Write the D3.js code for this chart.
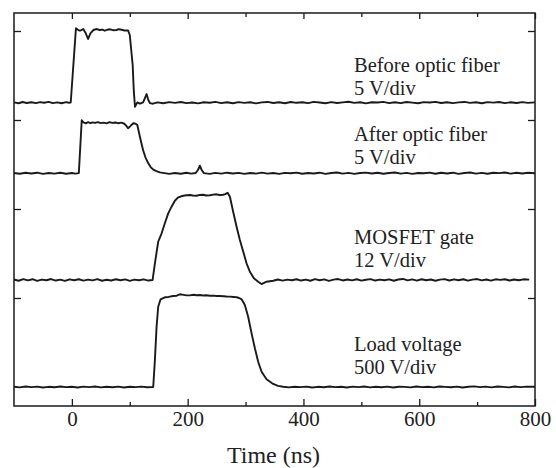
<!DOCTYPE html>
<html><head><meta charset="utf-8">
<script src="https://cdn.jsdelivr.net/npm/d3@7"></script>
<style>
body{margin:0;background:#fff}
svg{display:block}
</style>
</head><body>
<svg id="chart" width="556" height="468"></svg>
<script>
// ---------------- data ----------------
const traceNames  = ["Before optic fiber", "After optic fiber", "MOSFET gate", "Load voltage"];
const traceScales = ["5 V/div", "5 V/div", "12 V/div", "500 V/div"];
const traceOffsets = [3.194, 2.401, 1.202, 0.0];   // vertical offset of each trace, in divisions
const xMajorTicks = [0, 200, 400, 600, 800];
const xMinorTicks = [100, 300, 500, 700];
const yTicks = [1, 2, 3, 4];
const xTitle = "Time (ns)";

// time (ns), signal (divisions above the trace baseline)
const beforeFiber = [
  [-100,0.004],[-92,-0.006],[-85,0.008],[-78,-0.003],[-70,0.006],[-62,-0.004],[-55,0.007],[-48,0],
  [-40,0.009],[-33,-0.005],[-25,0.004],[-18,-0.006],[-10,0.007],[-5,0],[-2,0.002],
  [7,0.836],[11,0.817],[14,0.809],[19.6,0.828],[24,0.78],[28,0.716],[32,0.78],[37,0.817],[43,0.828],
  [48,0.817],[53,0.822],[57,0.809],[61,0.82],[66,0.825],[71,0.815],[77,0.817],[81,0.826],[86,0.82],
  [91,0.812],[97,0.813],[100,0.761],[105,0.424],[107,0.124],[109,-0.045],[113,0.004],[117.5,-0.011],
  [123,0.004],[126,0.05],[129,0.098],[132,0.03],[135,-0.005],[140,-0.011],
  [148,0.004],[158,-0.006],[168,0.007],[178,-0.002],[188,0.008],[198,-0.005],[208,0.003],[218,-0.007],
  [228,0.006],[238,0],[248,0.009],[258,-0.004],[268,0.005],[278,-0.006],[288,0.007],[298,-0.002],
  [308,0.006],[318,-0.007],[328,0.004],[338,0.009],[348,-0.003],[358,0.005],[368,-0.006],[378,0.008],
  [388,-0.001],[398,0.006],[408,-0.005],[418,0.01],[428,0.002],[438,-0.006],[448,0.007],[458,-0.003],
  [468,0.004],[478,0.011],[488,-0.002],[498,0.006],[508,-0.007],[518,0.005],[528,0.002],[538,0.009],
  [548,-0.004],[558,0.006],[568,-0.005],[578,0.008],[588,0.001],[598,-0.006],[608,0.007],[618,0.003],
  [628,0.01],[638,-0.003],[648,0.006],[658,-0.005],[668,0.004],[678,0.009],[688,-0.002],[698,0.006],
  [708,-0.006],[718,0.007],[728,0.001],[738,0.008],[748,-0.004],[758,0.005],[768,-0.003],[778,0.007],
  [788,-0.002],[800,0.004]
];
const afterFiber = [
  [-100,0.003],[-90,-0.005],[-80,0.006],[-70,-0.002],[-60,0.007],[-50,-0.006],[-40,0.004],[-30,-0.003],
  [-20,0.006],[-10,-0.005],[0,0.004],[6,-0.003],[12,0.002],
  [17,0.596],[20,0.573],[24,0.562],[28,0.575],[32,0.563],[36,0.572],[40,0.566],[45,0.576],[50,0.564],
  [55,0.57],[60,0.561],[65,0.574],[70,0.566],[75,0.571],[80,0.563],[85,0.57],[90,0.56],[94,0.535],
  [97,0.506],[101,0.53],[106,0.562],[110,0.558],[113,0.543],[117.5,0.411],[123,0.26],[127,0.18],
  [132,0.112],[136,0.07],[140,0.045],[146,0.025],[152,0.011],[160,0.002],
  [168,-0.006],[178,0.004],[188,-0.005],[198,0.006],[206,-0.003],[214,0.003],[218,0.04],[221,0.085],
  [224,0.04],[228,0.002],[238,-0.006],[248,0.005],[258,-0.004],[268,0.007],[278,-0.002],[288,0.005],
  [298,-0.006],[308,0.004],[318,-0.003],[328,0.008],[338,-0.004],[348,0.003],[358,-0.007],[368,0.005],
  [378,0.001],[388,0.008],[398,-0.005],[408,0.004],[418,-0.002],[428,0.007],[438,-0.006],[448,0.003],
  [458,0.009],[468,-0.003],[478,0.005],[488,-0.006],[498,0.004],[508,0.008],[518,-0.002],[528,0.006],
  [538,-0.005],[548,0.003],[558,0.009],[568,-0.004],[578,0.005],[588,-0.006],[598,0.004],[608,0.001],
  [618,0.008],[628,-0.005],[638,0.006],[648,-0.002],[658,0.007],[668,-0.006],[678,0.003],[688,0.009],
  [698,-0.003],[708,0.005],[718,-0.005],[728,0.006],[738,0.002],[748,0.009],[758,-0.004],[768,0.006],
  [778,-0.002],[788,0.007],[800,0.001]
];
const mosfetGate = [
  [-100,0.006],[-92,-0.008],[-84,0.01],[-76,-0.004],[-68,0.009],[-60,-0.009],[-52,0.005],[-44,-0.003],
  [-36,0.011],[-28,-0.006],[-20,0.004],[-12,-0.01],[-4,0.008],[4,-0.002],[12,0.009],[20,-0.007],
  [28,0.005],[36,-0.004],[44,0.01],[52,-0.008],[60,0.003],[68,-0.005],[76,0.009],[84,-0.003],
  [92,0.007],[100,-0.009],[108,0.004],[116,-0.002],[124,0.008],[132,-0.006],[139.4,0],
  [143.4,0.188],[149.1,0.43],[155,0.525],[160.6,0.637],[166.4,0.749],[172.2,0.824],[177.9,0.891],
  [183.6,0.929],[192.3,0.947],[198,0.952],[203.8,0.955],[209,0.949],[215.4,0.947],[221,0.956],
  [226.8,0.958],[232,0.95],[238.4,0.952],[244,0.96],[249.9,0.963],[255,0.955],[261.4,0.958],[265,0.965],
  [269,0.981],[273,0.936],[278.6,0.767],[284.5,0.599],[290.2,0.449],[296,0.318],[301.7,0.188],
  [307.5,0.093],[314.4,0.019],[321.8,-0.019],[327.7,-0.045],[336.3,-0.019],[347.8,-0.008],
  [356,0.006],[364,-0.007],[372,0.004],[380,-0.002],[388,0.009],[396,-0.006],[404,0.005],[412,-0.008],
  [420,0.01],[428,-0.003],[436,0.007],[444,-0.009],[452,0.004],[460,0.011],[468,-0.005],[476,0.006],
  [484,-0.004],[492,0.009],[500,-0.007],[508,0.003],[516,0.01],[524,-0.006],[532,0.005],[540,-0.002],
  [548,0.008],[556,-0.008],[564,0.006],[572,0.012],[580,-0.004],[588,0.007],[596,-0.006],[604,0.009],
  [612,-0.002],[620,0.006],[628,-0.008],[636,0.004],[644,0.01],[652,-0.005],[660,0.007],[668,-0.003],
  [676,0.009],[684,-0.007],[692,0.005],[700,0.011],[708,-0.004],[716,0.006],[724,-0.006],[732,0.008],
  [740,0.001],[748,0.009],[756,-0.005],[764,0.006],[772,-0.002],[780,0.008],[790,0.004]
];
const loadVoltage = [
  [-100,0.003],[-90,-0.004],[-80,0.005],[-70,-0.002],[-60,0.004],[-50,-0.005],[-40,0.002],[-30,-0.003],
  [-20,0.005],[-10,-0.002],[0,0.003],[10,-0.005],[20,0.004],[30,-0.001],[40,0.005],[50,-0.004],
  [60,0.002],[70,-0.003],[80,0.004],[90,-0.005],[100,0.003],[110,-0.002],[120,0.004],[130,-0.003],
  [140.5,0],[143.4,0.303],[146.3,0.678],[149.1,0.902],[153.2,0.985],[160.6,1.008],[167,1.012],[175,1.022],
  [181,1.026],[186.6,1.042],[193,1.035],[198,1.03],[203.8,1.03],[210,1.036],[215,1.031],[221,1.034],
  [227,1.028],[232,1.031],[238.4,1.026],[244,1.027],[250,1.022],[255.7,1.022],[262,1.02],[267,1.017],
  [273,1.015],[279,1.012],[284.5,1.008],[289,1.0],[293.1,0.985],[298.8,0.921],[304.5,0.79],
  [310.4,0.603],[316.1,0.435],[321.8,0.284],[327.7,0.172],[336.3,0.087],[347.7,0.034],[356,0.012],
  [365,0.003],[375,-0.004],[385,0.003],[395,-0.002],[405,0.004],[415,-0.005],[425,0.002],[435,-0.003],
  [445,0.005],[455,-0.002],[465,0.003],[475,-0.005],[485,0.004],[495,-0.001],[505,0.005],[515,-0.004],
  [525,0.002],[535,-0.003],[545,0.004],[555,-0.005],[565,0.003],[575,0.001],[585,-0.004],[595,0.005],
  [605,-0.002],[615,0.003],[625,-0.004],[635,0.006],[645,0.001],[655,-0.003],[665,0.004],[675,-0.005],
  [685,0.003],[695,0.007],[705,-0.002],[715,0.004],[725,-0.004],[735,0.006],[745,0.001],[755,-0.004],
  [765,0.005],[775,-0.002],[785,0.004],[800,0.002]
];
const traces = [beforeFiber, afterFiber, mosfetGate, loadVoltage];

// ---------------- layout ----------------
const FONT = '"Liberation Serif","Tinos","Times New Roman","DejaVu Serif","Noto Serif",serif';
const plot = {left: 14, right: 535, top: 13, bottom: 406};
const labelX = 354;
const labelBaselines = [71.9, 140.9, 244.2, 350.9];
const labelGap = 22.8;
const labelSize = 20.5;

const svg = d3.select("#chart");
const x = d3.scaleLinear().domain([-100, 800]).range([plot.left, plot.right]);
const y = d3.scaleLinear().domain([-0.2135, 4.2022]).range([plot.bottom, plot.top]);

const ink = "#1a1a1a";

function styleAxis(g) {
  g.select(".domain").remove();
  g.selectAll(".tick line").attr("stroke", ink).attr("stroke-width", 1.3);
}
svg.append("g").attr("transform", `translate(0,${plot.bottom})`)
  .call(d3.axisBottom(x).tickValues(xMajorTicks).tickSizeInner(-7).tickSizeOuter(0).tickPadding(5).tickFormat(d3.format("d")))
  .call(styleAxis)
  .call(g => g.attr("font-family", null).attr("font-size", null))
  .call(g => g.selectAll(".tick text").attr("font-size", 21).attr("fill", "#222")
      .style("font-family", FONT));
svg.append("g").attr("transform", `translate(0,${plot.bottom})`)
  .call(d3.axisBottom(x).tickValues(xMinorTicks).tickSizeInner(-4).tickSizeOuter(0).tickFormat(""))
  .call(styleAxis);
svg.append("g").attr("transform", `translate(0,${plot.top})`)
  .call(d3.axisTop(x).tickValues(xMajorTicks).tickSizeInner(-6).tickSizeOuter(0).tickFormat(""))
  .call(styleAxis);
svg.append("g").attr("transform", `translate(0,${plot.top})`)
  .call(d3.axisTop(x).tickValues(xMinorTicks).tickSizeInner(-4).tickSizeOuter(0).tickFormat(""))
  .call(styleAxis);
svg.append("g").attr("transform", `translate(${plot.left},0)`)
  .call(d3.axisLeft(y).tickValues(yTicks).tickSizeInner(-7).tickSizeOuter(0).tickFormat(""))
  .call(styleAxis);
svg.append("g").attr("transform", `translate(${plot.right},0)`)
  .call(d3.axisRight(y).tickValues(yTicks).tickSizeInner(-7).tickSizeOuter(0).tickFormat(""))
  .call(styleAxis);

// traces
const line = d3.line().x(d => x(d[0])).y(d => y(d[1]));
svg.append("g").selectAll("path").data(traces).join("path")
  .attr("d", (t, i) => line(t.map(p => [p[0], p[1] + traceOffsets[i]])))
  .attr("fill", "none").attr("stroke", ink).attr("stroke-width", 1.9)
  .attr("stroke-linejoin", "round");

// frame
svg.append("rect").attr("x", plot.left).attr("y", plot.top)
  .attr("width", plot.right - plot.left).attr("height", plot.bottom - plot.top)
  .attr("fill", "none").attr("stroke", ink).attr("stroke-width", 1.5);

// trace labels (two lines each)
traceNames.forEach((name, i) => {
  svg.append("text").attr("x", labelX).attr("y", labelBaselines[i])
    .style("font-family", FONT).attr("font-size", labelSize).attr("fill", "#222").text(name);
  svg.append("text").attr("x", labelX).attr("y", labelBaselines[i] + labelGap)
    .style("font-family", FONT).attr("font-size", labelSize).attr("fill", "#222").text(traceScales[i]);
});

// x title
svg.append("text").attr("x", (plot.left + plot.right) / 2 - 1).attr("y", 463)
  .style("font-family", FONT).attr("text-anchor", "middle").attr("font-size", 24)
  .attr("fill", "#222").text(xTitle);
</script>
</body></html>
